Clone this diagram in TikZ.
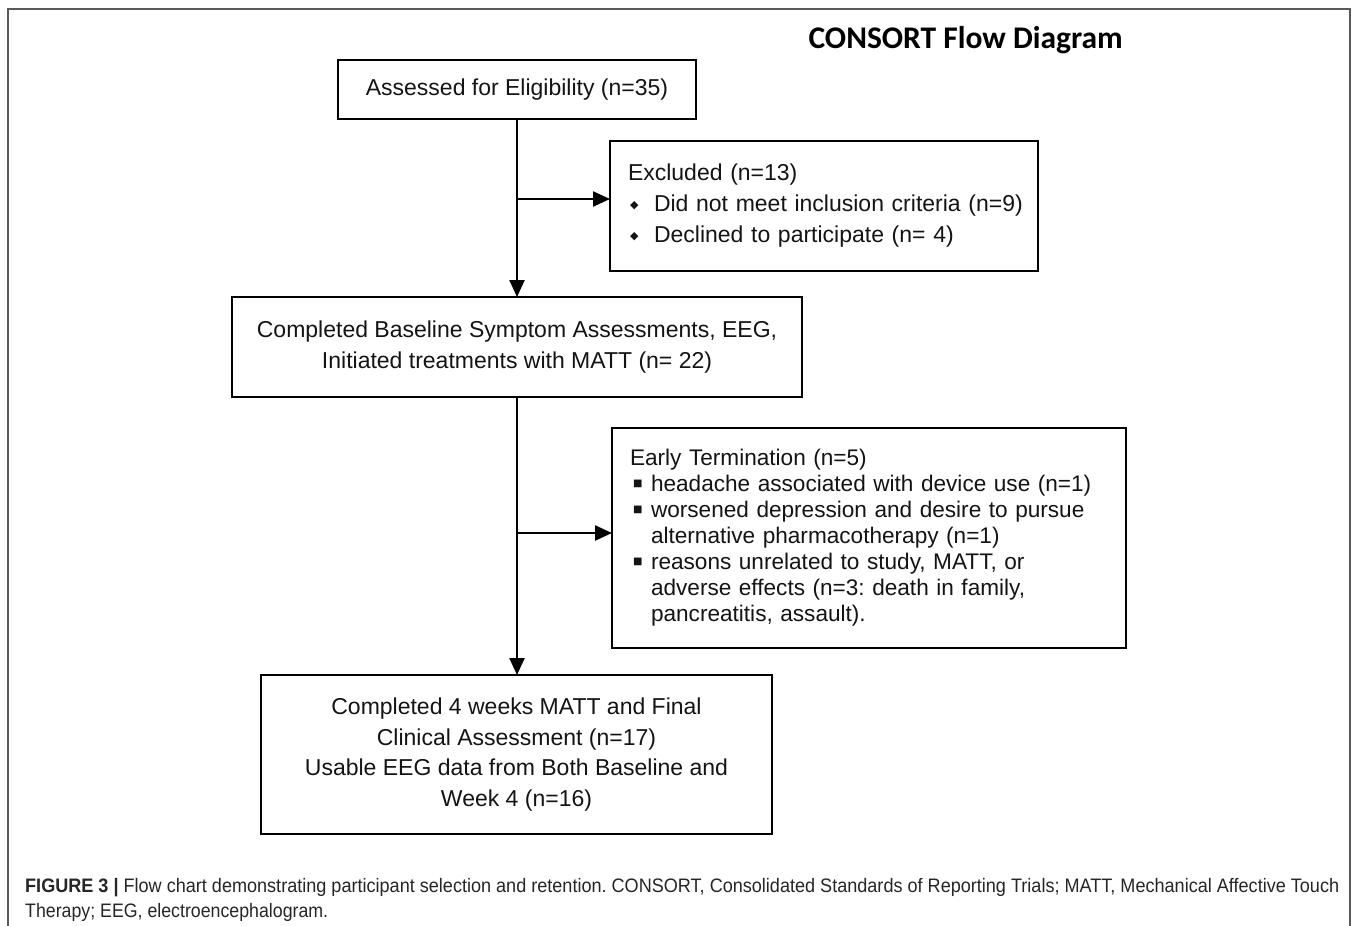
\documentclass[tikz,border=0pt]{standalone}
\usepackage{fontspec}
\usepackage{graphicx}
\setmainfont{Liberation Sans}
\newfontfamily\titlefont{Carlito}
\newfontfamily\symfont{DejaVu Sans}
\usetikzlibrary{arrows.meta}
\frenchspacing
\newcommand\diabul{\makebox[26pt][l]{\hspace{2pt}\raisebox{3pt}{\symfont\fontsize{11}{11}\selectfont ◆}}}
\newcommand\sqbul{\makebox[21pt][l]{\hspace{3pt}\raisebox{5.5pt}{\symfont\fontsize{10}{10}\selectfont ■}}}
\begin{document}
\begin{tikzpicture}[x=1pt,y=-1pt,
  box/.style={draw=black, line width=2.4pt, outer sep=0pt, inner sep=0pt, text=black!92, font=\fontsize{23}{30.5}\selectfont, align=center},
  listbox/.style={box, align=left, inner xsep=18pt, inner ysep=0pt},
  arr/.style={line width=2.4pt, -{Triangle[length=17pt,width=15pt]}},
  frame/.style={draw=black!65, line width=1.3pt}
]
\useasboundingbox (0,0) rectangle (1357,926);
\fill[white] (0,0) rectangle (1357,926);
\draw[frame] (8,926) -- (8,9) -- (1350,9) -- (1350,926);

\node[anchor=base west, font=\titlefont\bfseries\fontsize{31.5}{32}\selectfont] (title) at (805,48) {CONSORT Flow Diagram};

\node[box, minimum width=358pt, minimum height=59pt, anchor=north west] (b1) at (338,60) {Assessed for Eligibility (n=35)};

\node[listbox, text width=392pt, minimum height=130pt, anchor=north west, font=\fontsize{23}{31}\selectfont] (excl) at (610,141)
{Excluded (n=13)\\
\mbox{\diabul Did not meet inclusion criteria (n=9)}\\
\mbox{\diabul Declined to participate (n= 4)}};

\node[box, minimum width=570pt, minimum height=100pt, anchor=north west] (b2) at (232,297)
{Completed Baseline Symptom Assessments, EEG,\\Initiated treatments with MATT (n= 22)};

\node[listbox, text width=478pt, minimum height=220pt, anchor=north west, font=\fontsize{22.6}{26}\selectfont] (early) at (612,428)
{Early Termination (n=5)\\
\sqbul headache associated with device use (n=1)\\
\sqbul worsened depression and desire to pursue\\
\hspace*{21pt}alternative pharmacotherapy (n=1)\\
\sqbul reasons unrelated to study, MATT, or\\
\hspace*{21pt}adverse effects (n=3: death in family,\\
\hspace*{21pt}pancreatitis, assault).};

\node[box, minimum width=511pt, minimum height=159pt, anchor=north west] (b3) at (261,675)
{Completed 4 weeks MATT and Final\\Clinical Assessment (n=17)\\Usable EEG data from Both Baseline and\\Week 4 (n=16)};

\coordinate (j1) at (517,199);
\coordinate (j2) at (517,533);
\draw[arr] (b1.south) -- (b2.north);
\draw[arr] (j1) -- (excl.west |- j1);
\draw[arr] (b2.south -| b1.south) -- (b3.north -| b1.south);
\draw[arr] (j2) -- (early.west |- j2);

\node[anchor=base west, inner sep=0pt, text=black!85] (cap1) at (25,892)
{\resizebox{1314pt}{\height}{\fontsize{19.5}{19.5}\selectfont\textbf{FIGURE 3 |} Flow chart demonstrating participant selection and retention. CONSORT, Consolidated Standards of Reporting Trials; MATT, Mechanical Affective Touch}};
\node[anchor=base west, inner sep=0pt, text=black!85] (cap2) at (25,917)
{\resizebox{303pt}{\height}{\fontsize{19.5}{19.5}\selectfont Therapy; EEG, electroencephalogram.}};
\end{tikzpicture}
\end{document}
